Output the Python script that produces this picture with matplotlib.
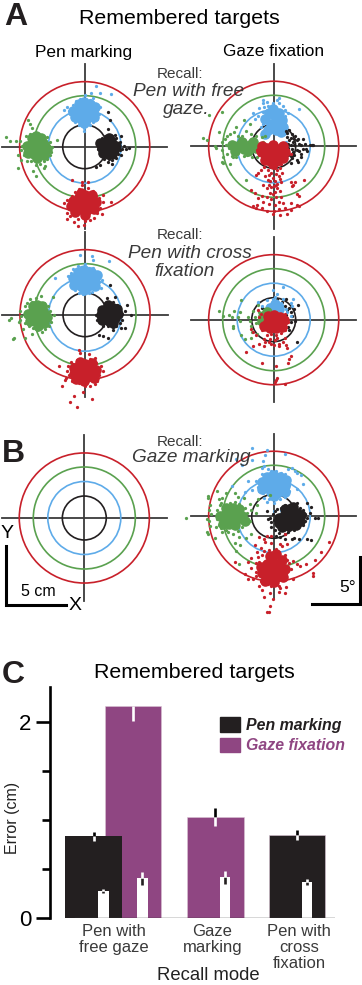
#!/usr/bin/env python3
# -*- coding: utf-8 -*-
import matplotlib
matplotlib.use("Agg")
import matplotlib.pyplot as plt
from matplotlib.patches import Circle, Patch

plt.rcParams['font.family'] = ['Liberation Sans', 'DejaVu Sans']

W, H = 362, 985
PX_PER_UNIT = 12.0
BLACK = '#231f20'
RED = '#c8202a'
GREEN = '#5aa14f'
BLUE = '#5eabe9'
PURPLE = '#8f4682'
GREY = '#3a3a3a'

# ring radii (cm / deg), inner to outer
ring_radii = [1.83, 3.04, 4.25, 5.42]
ring_colors = [BLACK, BLUE, GREEN, RED]

# Pen marking / recall with free gaze
pf_black_core = [(1.5,.2),(1.9,.5),(2.3,.2),(1.6,-.3),(2.0,-.1),(2.4,-.3),(1.9,-.6),(2.2,.5),(1.4,-.1),(1.9,.05),(1.3,.35),(2.6,.05),(1.5,-.55),(2.3,-.6),(2.0,.75)]
pf_black = [(1.0,.2),(1.1,-.2),(1.2,.5),(1.3,-.6),(1.4,.7),(1.7,.9),(2.0,.9),(2.3,.9),(2.5,1.0),(2.6,.7),(2.9,.4),(3.0,.9),(3.3,.1),(3.1,-.2),(3.4,-.2),(2.9,-.3),(2.8,-.6),(2.6,-.9),(2.3,-1.1),(2.0,-1.0),(1.6,-1.0),(1.3,-1.5),(.9,-1.7),(2.3,-1.4),(1.9,1.5),(1.9,-1.3),(3.0,-.7),(3.7,-.1),(1.9,2.9),(2.1,2.2)]
pf_blue_core = [(-.5,3.2),(-.1,3.4),(.4,3.1),(-.6,2.7),(-.1,2.9),(.4,2.6),(-.3,2.3),(.1,2.2),(.7,2.9),(-.95,3.0),(.85,3.3),(-.8,2.45),(.8,2.45),(-.05,3.75),(-.1,1.95),(-.5,3.55),(.45,3.55)]
pf_blue = [(-1.3,3.0),(-1.5,3.3),(-1.0,3.5),(-1.2,2.7),(-.9,2.4),(-.7,3.8),(-.4,4.0),(0,4.3),(.1,3.8),(.4,3.9),(.7,4.1),(.9,3.6),(1.0,3.1),(1.3,3.3),(1.2,2.7),(1.0,2.3),(.7,2.1),(.4,1.8),(-.1,1.6),(-.5,1.8),(-.8,2.1),(.95,5.05),(.5,4.45),(1.3,4.45),(2.2,4.4),(-1.7,3.1),(-.1,1.3)]
pf_green_core = [(-4.4,.3),(-4,.6),(-3.5,.3),(-4.5,-.2),(-4,0),(-3.5,-.2),(-4.2,-.6),(-3.8,-.7),(-3.3,.1),(-4.8,.1),(-3.1,-.2),(-4.7,-.5),(-4.4,.7),(-3.6,.7),(-3.4,-.65),(-4.1,.9),(-4.0,-.95)]
pf_green = [(-5.4,.5),(-5.2,.1),(-5.3,-.3),(-5.1,-.7),(-4.9,.9),(-4.6,1.1),(-4.4,1.6),(-4.6,1.9),(-4.3,.9),(-3.9,1.1),(-3.5,.9),(-3.1,.8),(-2.9,.4),(-2.7,.0),(-2.8,-.4),(-2.9,-.7),(-3.1,-1.0),(-3.4,-1.2),(-3.7,-1.4),(-4.1,-1.5),(-4.5,-1.2),(-4.8,-1.2),(-5.3,-1.1),(-5.6,-.7),(-5.7,.5),(-6.2,.5),(-6.6,.8),(-5.6,-1.8),(-4.3,-2.0),(-4.1,-2.4),(-3.4,-1.8),(-2.3,.6),(-3.3,-1.6),(-4.7,2.2)]
pf_red_core = [(-.5,-4.2),(0,-4.0),(.4,-4.4),(-.7,-4.7),(-.1,-4.6),(.5,-4.9),(-.4,-5.2),(.2,-5.3),(-.9,-5.0),(-1.0,-4.5),(.9,-4.6),(.8,-5.2),(-.8,-5.45),(.6,-4.05),(-.35,-3.85),(.0,-5.65),(-1.15,-4.95)]
pf_red = [(-1.7,-4.7),(-1.5,-4.4),(-1.4,-5.0),(-1.5,-5.5),(-1.2,-5.8),(-1.1,-4.1),(-.8,-3.8),(-.5,-3.5),(-.2,-3.2),(.3,-2.9),(-.2,-2.9),(-1.1,-2.8),(.3,-3.4),(.7,-3.7),(.9,-4.1),(1.2,-4.3),(1.5,-4.6),(1.3,-5.1),(1.0,-5.5),(1.4,-5.6),(.8,-5.9),(.4,-6.1),(0,-6.2),(-.6,-6.0),(-.9,-6.3),(-.1,-6.5),(-.6,-6.6),(2.2,-4.6),(1.5,-4.0),(-1.5,-6.0)]

# Pen marking / recall with cross fixation
pc_black_core = [(1.7,.3),(2.1,.5),(2.5,.2),(1.7,-.2),(2.1,0),(2.5,-.3),(2.0,-.5),(2.3,.6),(1.3,0),(1.4,.4),(2.75,.05),(1.45,-.45),(2.35,-.65),(1.95,.85),(2.65,.45)]
pc_black = [(.9,0),(1.0,-.4),(1.2,.3),(1.2,-.5),(1.4,.6),(1.7,.8),(1.8,1.4),(2.5,1.5),(2.3,1.1),(2.7,.8),(2.9,.4),(3.1,.1),(3.3,.3),(3.5,.8),(3.8,0),(3.1,-.4),(2.9,-.7),(2.6,-.9),(2.3,-1.0),(1.9,-.9),(1.5,-.9),(3.3,-1.1),(3.0,-1.1),(1.5,-1.8),(1.9,-1.9),(1.2,-1.7),(2.1,2.5),(2.3,-1.3)]
pc_blue_core = [(-.6,3.3),(-.1,3.4),(.5,3.2),(-.7,2.8),(-.1,2.9),(.5,2.7),(-.3,2.4),(.2,2.3),(.8,3.1),(-1.0,3.1),(1.0,3.3),(-.95,2.5),(.85,2.4),(-.05,3.75),(-.1,2.05),(-.55,3.6),(.5,3.6)]
pc_blue = [(-1.4,3.2),(-1.2,2.9),(-1.2,3.5),(-1.0,3.8),(-1.0,2.5),(-.8,2.1),(-.5,1.8),(-.2,1.7),(.3,1.8),(.6,1.9),(.9,2.2),(1.2,2.7),(1.4,2.9),(1.0,3.6),(.7,3.9),(.3,3.9),(-.3,4.0),(-.6,4.1),(0,4.2),(1.3,2.2),(-2.5,3.1),(-.4,5.0),(.7,4.6),(2.0,4.5),(.6,4.9)]
pc_green_core = [(-4.3,.3),(-3.9,.5),(-3.5,.3),(-4.4,-.1),(-4,0),(-3.5,-.2),(-4.1,-.5),(-3.7,-.6),(-3.3,0),(-4.75,.1),(-3.15,-.2),(-4.6,-.5),(-4.3,.7),(-3.6,.7),(-3.4,-.65),(-4.0,.85),(-3.95,-.9)]
pc_green = [(-5.4,.3),(-5.3,-.1),(-5.4,-.4),(-5.0,.7),(-4.8,1.0),(-4.4,1.1),(-4.1,1.4),(-3.7,1.6),(-3.9,1.0),(-3.4,1.0),(-3.1,.7),(-2.9,.3),(-2.6,0),(-2.9,-.3),(-2.8,-.6),(-3.0,-.9),(-3.3,-1.2),(-3.6,-1.4),(-4.0,-1.3),(-4.3,-1.1),(-4.7,-.9),(-5.0,-.7),(-5.2,-1.2),(-5.5,-.6),(-6.3,-.4),(-6.2,-.3),(-6.0,-2.0),(-5.9,-1.9),(-5.0,-1.9),(-4.4,-1.6),(-2.7,1.5),(-4.6,1.3)]
pc_red_core = [(-.5,-4.3),(0,-4.1),(.5,-4.4),(-.6,-4.8),(0,-4.7),(.6,-4.9),(-.3,-5.2),(.2,-5.2),(-.9,-4.9),(-.95,-4.45),(.95,-4.6),(.75,-5.3),(-.75,-5.35),(.55,-4.05),(-.4,-3.95),(-.05,-5.55)]
pc_red = [(-1.5,-4.7),(-1.4,-4.3),(-1.3,-5.0),(-1.6,-5.3),(-1.1,-5.5),(-1.0,-4.1),(-.7,-3.8),(-.4,-3.2),(-.5,-2.9),(.4,-3.7),(.8,-3.6),(.9,-4.0),(1.3,-4.3),(1.5,-4.7),(1.2,-5.0),(1.0,-5.5),(.8,-5.8),(.4,-5.9),(0,-5.9),(-.5,-5.7),(-.2,-6.4),(-.9,-6.8),(-.7,-7.7),(-1.25,-7.3),(.55,-7.0),(-2.2,-4.3),(-1.9,-5.9),(-1.7,-5.4),(-1.2,-3.9),(.3,-3.3)]

# Gaze fixation / recall with free gaze
gf_green_core = [(-3.0,0),(-2.5,-.2),(-2.0,.1),(-2.6,.4),(-3.2,-.4),(-1.5,-.1),(-3.5,.15),(-2.1,-.4),(-1.7,.4)]
gf_green = [(-5.9,.7),(-5.6,.5),(-4.8,-.1),(-4.9,0),(-4.3,-.3),(-4.0,.1),(-4.1,.6),(-3.9,.9),(-3.6,1.0),(-3.3,1.2),(-3.1,1.6),(-3.0,.9),(-2.6,.9),(-2.3,1.3),(-1.9,1.0),(-1.5,.9),(-1.0,.8),(-.9,.4),(-.7,.9),(-3.7,-.1),(-3.5,.4),(-3.9,-.6),(-3.5,-.8),(-3.4,-.9),(-3.1,-.9),(-4.3,-1.3),(-4.2,-1.4),(-3.6,-1.5),(-2.5,-.8),(-2.2,-.7),(-1.8,-.9),(-1.4,-.9),(-2.3,-2.8),(-2.5,2.2),(-4.6,1.2),(-4.3,2.9),(-5.4,2.6),(-2.0,1.9),(-2.8,.7),(-1.5,.4),(-4.3,.4),(-4.2,-.9)]
gf_blue_core = [(-.4,2.8),(0,2.6),(.3,2.1),(-.2,1.9),(-.5,1.4),(.2,1.4),(.6,1.2),(.4,2.8),(-.1,3.1),(-.75,2.3),(.7,2.2),(.8,1.6),(-.7,1.0)]
gf_blue = [(-.9,3.6),(-.8,3.3),(-.5,3.4),(-.1,3.6),(.4,3.65),(.8,3.4),(.9,3.0),(1.2,2.8),(.9,2.5),(.95,2.0),(-.9,2.9),(-1.2,3.2),(-1.7,2.8),(-1.6,2.3),(-1.3,2.5),(-.9,2.4),(-.9,1.9),(-1.1,1.6),(-.8,1.1),(.9,1.5),(1.1,1.1),(2.1,3.1),(1.0,.4),(-.1,3.1),(-.9,3.9),(.3,3.9),(.4,4.0),(-.6,3.7)]
gf_black_core = []
gf_black = [(1.0,1.3),(1.3,1.4),(1.5,1.0),(1.1,.8),(1.8,.9),(2.0,.6),(2.4,.6),(2.3,.1),(2.6,.2),(3.0,.1),(3.2,.1),(3.3,.15),(2.7,-.2),(2.4,-.2),(2.3,-.6),(2.1,-.4),(1.7,-.7),(1.2,-.7),(1.0,-.3),(1.5,-1.0),(1.9,-1.1),(2.0,-1.3),(1.4,-1.4),(2.3,-.9),(2.8,-.4),(.9,-1.0),(1.2,.2),(.9,.2),(1.4,.7),(1.6,.4),(1.3,.5),(1.7,.1),(1.5,-.2),(1.2,-.1),(1.9,-.3),(1.6,-.5),(1.4,-.8),(1.1,1.1),(1.7,.6),(2.1,.2),(1.9,.5),(1.4,.1)]
gf_red_core = [(-.6,-.1),(-.1,.1),(.4,-.2),(-.7,-.7),(-.1,-.6),(.5,-.7),(-.3,-1.1),(.2,-1.2),(-1.05,-.4),(.9,-.45),(.75,.05),(-.95,.0),(.8,-1.0),(-.75,-1.1),(-.1,-1.5)]
gf_red = [(-1.4,-.3),(-1.2,-.7),(-1.0,.1),(.9,-.1),(1.2,-.3),(1.4,-.6),(1.0,-1.0),(.8,-1.2),(-.9,-1.2),(-.8,-1.7),(-.5,-2.0),(.5,-1.8),(.7,-2.2),(-.7,-2.5),(-.5,-2.8),(-1.1,-2.0),(-1.3,-2.2),(-.4,-3.2),(.6,-3.0),(.5,-2.7),(-.9,-3.2),(-.6,-3.5),(-.3,-3.9),(.5,-3.7),(.6,-4.2),(.2,-4.2),(-.2,-4.4),(-.6,-4.2),(-1.0,-4.1),(-1.3,-4.3),(-1.6,-3.9),(-.9,-4.6),(-.4,-4.8),(.1,-4.9),(.4,-4.6),(.8,-4.7),(.9,-5.1),(.4,-5.2),(.0,-5.4),(-.1,-5.6),(.5,-5.7),(1.1,-5.6),(1.4,-4.7),(1.9,-4.0),(2.1,-4.1),(1.9,-4.9),(2.1,-5.0),(-1.4,-4.9),(-1.7,-5.0),(-1.0,-5.1),(-1.5,-5.1),(-.6,-5.4),(1.4,-3.0),(1.6,-3.2),(1.8,-3.0),(1.5,-3.3),(2.5,-2.8),(-1.9,-3.6),(1.4,-5.3),(-1.5,-2.4),(-.3,-1.6),(.1,-1.8),(.3,-2.0),(-.2,-2.2),(.2,-2.3),(.4,-2.5),(-.1,-2.6),(.1,-2.9),(-.3,-2.9),(.3,-3.1),(0,-3.3),(-.2,-3.4),(.3,-3.5),(.1,-3.8),(.4,-1.5),(-.5,-1.5),(.6,-1.5),(-.1,-4.0),(.2,-3.2),(-.4,-2.4)]

# Gaze fixation / recall with cross fixation
gc_green_core = [(-.9,.3),(-.6,-.1),(-1.0,-.1),(-.6,.6)]
gc_green = [(-4.6,.7),(-4.2,.3),(-3.7,.4),(-3.5,.2),(-3.3,.7),(-3.0,.2),(-2.7,1.6),(-2.8,.6),(-2.8,-.1),(-3.4,-.5),(-3.4,-.7),(-2.7,-1.3),(-1.9,-.5),(-2.1,.2),(-2.0,-.1),(-1.8,-1.0),(-1.7,.7),(-1.6,.2),(-1.5,-.3),(-1.3,1.2),(-1.2,.6),(-1.2,-.3),(-1.4,-1.2),(-1.9,-1.5),(-2.4,-1.6)]
gc_blue_core = [(-.3,1.0),(.1,1.3),(.4,.9)]
gc_blue = [(.75,2.7),(-.1,2.5),(.1,1.9),(-.1,1.7),(.3,2.1),(.1,1.5),(-.6,1.6),(-1.3,1.4),(-1.0,1.1),(-1.3,1.5),(-.5,1.2),(.6,1.4),(.8,1.7),(.7,1.2),(1.0,.9),(1.4,1.4),(1.6,1.7),(1.5,1.1),(1.1,.6),(1.4,.3)]
gc_black_core = []
gc_black = [(.9,1.1),(1.1,.8),(1.3,1.0),(1.0,.4),(1.4,.6),(1.5,.3),(1.7,.9),(2.0,1.2),(1.8,-.1),(1.4,-.2),(1.2,-.6),(1.3,-.9),(1.9,-1.9),(.7,1.5),(-1.0,1.0),(-.8,.9),(1.0,1.7),(.3,1.7)]
gc_red_core = [(-.5,.3),(0,.4),(.5,.2),(-.5,-.2),(0,-.3),(.5,-.3),(-.3,-.7),(.2,-.7),(.7,-.6),(-.8,-.5),(.85,.0)]
gc_red = [(-1.2,.2),(-1.0,-.4),(-1.0,-.9),(-1.3,.8),(-1.1,.5),(.9,.5),(1.0,.1),(1.2,-.2),(1.0,-.6),(.9,-.9),(.6,-1.1),(.2,-1.3),(-.2,-1.2),(-.6,-1.3),(-.8,-1.6),(-.3,-1.6),(.1,-1.7),(.3,-1.5),(.9,-1.5),(-1.2,-2.0),(-.7,-1.9),(-.4,-1.9),(-.2,-2.0),(0,-2.1),(-1.5,-1.3),(-1.7,-1.0),(-1.9,-.8),(-1.7,-2.2),(-.8,-2.2),(.4,-2.0),(.4,-2.2),(.8,-1.9),(1.0,-2.1),(1.1,-2.4),(1.3,-3.3),(1.2,-3.6),(1.4,-3.0),(-1.0,-3.6),(.2,-3.9),(.2,-5.0),(.3,-4.9),(.9,-5.4),(.1,-5.2),(-2.3,-2.7)]

# Gaze fixation / recall with gaze marking
gm_green_core = [(-4.0,.3),(-3.5,.3),(-3.0,.2),(-4.1,-.2),(-3.6,-.2),(-3.1,-.3),(-3.7,-.6),(-2.6,0),(-3.4,.7),(-4.45,.05),(-2.9,.6),(-4.2,-.65),(-3.2,-.75),(-3.95,.7),(-2.4,-.35)]
gm_green = [(-7.3,-.1),(-5.5,1.7),(-5.5,1.5),(-5.3,.9),(-5.4,.5),(-5.2,.2),(-5.4,-.4),(-5.3,-.8),(-5.5,-1.5),(-5.6,-1.3),(-4.7,.5),(-4.5,.9),(-4.4,1.1),(-4.6,1.4),(-4.3,1.5),(-4.8,-.9),(-4.6,-.7),(-4.7,-.2),(-4.4,-1.0),(-4.0,-1.1),(-4.3,-1.3),(-3.8,-1.3),(-3.4,-1.5),(-3.0,-1.2),(-2.9,-1.7),(-3.2,-1.0),(-2.6,-.9),(-2.4,-.5),(-2.0,-.4),(-2.2,.3),(-1.9,.5),(-2.4,.7),(-2.0,1.0),(-2.9,1.0),(-3.2,1.2),(-3.6,1.1),(-3.9,.9),(-3.0,1.6),(-3.2,1.9),(-2.5,1.5),(-1.5,.3),(-1.4,.9),(-1.3,1.4),(-.3,1.8),(-5.6,-.2),(-4.0,1.9),(-4.7,2.1),(-4.9,-1.8),(-3.2,-2.2),(-2.8,-2.4),(-3.1,-2.9),(-2.9,-4.0),(-1.9,-1.5),(-2.3,-1.8)]
gm_blue_core = [(-.4,2.9),(.1,3.1),(.5,2.8),(-.6,2.4),(0,2.6),(.5,2.3),(-.2,2.0),(.3,1.9),(.9,2.5),(-1.0,2.85),(1.0,3.0),(-.95,2.3),(.95,2.0),(-.05,3.45),(.0,1.65),(-.55,3.25),(.55,3.25)]
gm_blue = [(-1.8,5.7),(-1.5,2.9),(-1.3,2.4),(-1.2,2.1),(-1.1,3.0),(-1.0,3.5),(-.9,1.9),(-.7,3.5),(-.5,3.9),(-.2,3.8),(.2,3.8),(.6,3.6),(.9,3.5),(1.1,3.1),(1.3,2.6),(1.3,2.1),(1.1,1.9),(.9,1.6),(.5,1.4),(0,1.1),(-.4,1.4),(-.6,1.2),(-.8,1.5),(-1.8,2.2),(-2.4,2.0),(-2.1,2.9),(-1.0,4.0),(-.9,4.6),(-.3,3.4),(1.2,3.9),(1.5,4.0),(1.9,3.6),(1.8,3.8),(2.3,3.4),(1.9,2.3),(.9,5.2),(-.8,4.2),(-1.8,4.7),(-2.6,4.3),(-.7,5.1),(-.6,5.5),(-3.5,2.5),(-3.1,4.8),(0,.4),(.2,-.1),(.5,.2),(1.4,-.1),(2.4,2.7),(.6,.5)]
gm_black_core = [(.9,.2),(1.4,.4),(1.9,.3),(.9,-.4),(1.4,-.2),(1.9,-.3),(.7,-.9),(1.3,-.8),(.4,-.1),(2.3,.1),(2.2,-.35),(1.85,-.75),(.95,.6),(1.6,.75),(.45,-.55)]
gm_black = [(-.3,-.1),(-.5,-.2),(-.2,-.5),(0,-.3),(-.1,.2),(.1,.4),(.3,.6),(.6,.7),(.9,.9),(1.3,.9),(1.7,.8),(2.2,.7),(2.4,.5),(2.6,.2),(2.8,-.1),(2.6,-.4),(2.4,-.7),(2.1,-.7),(1.9,-1.0),(1.7,-1.1),(1.2,-1.3),(.9,-1.5),(.4,-1.4),(.1,-1.1),(-.2,-.9),(.2,-1.6),(.9,-1.9),(.5,-1.7),(1.5,-1.9),(1.7,-1.8),(2.1,-1.9),(2.8,-1.9),(3.1,-2.0),(3.4,-.1),(3.7,-.1),(3.0,.3),(3.1,.8),(2.8,1.1),(-.6,.4),(1.9,1.1)]
gm_red_core = [(-.6,-4.0),(-.1,-3.8),(.5,-4.1),(-.7,-4.5),(-.1,-4.5),(.5,-4.7),(-.4,-5.0),(.1,-5.1),(-1.0,-4.7),(.7,-3.6),(-1.05,-4.25),(.95,-4.4),(.8,-5.05),(-.75,-5.35),(-.35,-3.3),(.05,-5.5),(.15,-3.15)]
gm_red = [(-1.2,-1.7),(-.6,-1.6),(-.2,-1.6),(.9,-1.5),(-.8,-1.9),(-.2,-2.2),(.5,-2.3),(-1.1,-2.6),(-.4,-2.8),(-.8,-2.9),(.2,-2.7),(.7,-2.5),(1.1,-2.3),(-1.4,-3.0),(-1.3,-3.4),(-1.0,-3.2),(-.4,-3.3),(.4,-3.1),(.9,-3.2),(1.1,-3.6),(-1.2,-3.8),(-1.5,-3.9),(-1.9,-3.5),(-2.1,-3.8),(-1.9,-4.3),(-1.5,-4.6),(-1.5,-5.0),(-1.7,-5.2),(-2.1,-5.2),(-2.4,-4.8),(-1.1,-5.4),(-1.2,-5.8),(-.8,-5.5),(-.5,-5.6),(-.2,-5.8),(.2,-5.5),(.4,-5.8),(.7,-5.2),(1.0,-4.8),(1.1,-4.3),(1.3,-3.9),(1.4,-4.4),(1.6,-3.7),(1.9,-4.0),(2.2,-4.1),(2.7,-4.0),(3.4,-3.6),(3.3,-5.0),(3.3,-4.7),(1.6,-5.2),(1.0,-5.9),(.4,-6.3),(-.1,-6.9),(-.3,-6.4),(-.8,-6.7),(-1.0,-6.1),(-.3,-7.5),(-.6,-8.0),(-.4,-8.0),(4.6,-2.1),(3.9,-3.0),(-.7,-2.1),(-1.6,-2.4),(-3.2,-3.8),(.5,-6.0),(.9,-6.4)]

# bars, panel C
cat_labels = ['Pen with\nfree gaze', 'Gaze\nmarking', 'Pen with\ncross\nfixation']
cat_pos = [0.36, 2.09, 3.62]
bar_pos = [0.0, 0.69, 2.146, 3.586]
bar_err = [0.83, 2.17, 1.03, 0.845]
bar_sem_up = [0.05, 0.0, 0.09, 0.05]
bar_sem_down = [0.05, 0.16, 0.09, 0.05]
bar_cols = [BLACK, PURPLE, PURPLE, BLACK]
inner_val = [0.27, 0.40, 0.41, 0.365]
inner_sem = [0.02, 0.065, 0.07, 0.03]
yticks_major = [0, 2]
yticks_minor = [0.5, 1.0, 1.5]

fig = plt.figure(figsize=(W / 100, H / 100), dpi=100)


def px_axes(x0, y0, x1, y1):
    # y measured from the top of the picture, like the reference
    return fig.add_axes([x0 / W, 1 - y1 / H, (x1 - x0) / W, (y1 - y0) / H])


def target_panel(cx, cy, clusters):
    half = 88
    ax = px_axes(cx - half, cy - half, cx + half, cy + half)
    lim = half / PX_PER_UNIT
    ax.set_xlim(-lim, lim)
    ax.set_ylim(-lim, lim)
    ax.axis('off')
    ax.patch.set_alpha(0)
    ax.axhline(0, xmin=0.03, xmax=0.97, color=GREY, lw=1.3, zorder=1)
    ax.axvline(0, ymin=0.03, ymax=0.97, color=GREY, lw=1.3, zorder=1)
    for r, c in zip(ring_radii, ring_colors):
        ax.add_patch(Circle((0, 0), r, fill=False, ec=c, lw=1.2, zorder=2))
    for pts, core, col in clusters:
        for data, size in ((pts, 5.5), (core, 58)):
            if data:
                xs, ys = zip(*data)
                ax.scatter(xs, ys, s=size, color=col, linewidths=0, zorder=3, clip_on=False)
    return ax


target_panel(84.7, 146.7, [(pf_black, pf_black_core, BLACK), (pf_blue, pf_blue_core, BLUE),
                           (pf_green, pf_green_core, GREEN), (pf_red, pf_red_core, RED)])
target_panel(273.7, 146.3, [(gf_blue, gf_blue_core, BLUE), (gf_black, gf_black_core, BLACK),
                            (gf_green, gf_green_core, GREEN), (gf_red, gf_red_core, RED)])
target_panel(85, 314.7, [(pc_black, pc_black_core, BLACK), (pc_blue, pc_blue_core, BLUE),
                         (pc_green, pc_green_core, GREEN), (pc_red, pc_red_core, RED)])
target_panel(273.7, 319.7, [(gc_black, gc_black_core, BLACK), (gc_blue, gc_blue_core, BLUE),
                            (gc_green, gc_green_core, GREEN), (gc_red, gc_red_core, RED)])
target_panel(84.3, 518, [])
target_panel(273.7, 516.3, [(gm_blue, gm_blue_core, BLUE), (gm_black, gm_black_core, BLACK),
                            (gm_green, gm_green_core, GREEN), (gm_red, gm_red_core, RED)])

# panel C
ax = px_axes(49.5, 687, 335, 917.5)
ax.set_ylim(0, 230.5 / 97.6)
ax.set_xlim(-0.78, 4.255)
ax.patch.set_alpha(0)
ax.bar(bar_pos, bar_err, width=1.0, color=bar_cols, edgecolor='#d9c3d3', linewidth=0.4, zorder=2)
ax.bar(bar_pos[:1], bar_err[:1], width=1.0, color=BLACK, zorder=3)
inner_pos = [p + 0.17 for p in bar_pos]
ax.bar(inner_pos, inner_val, width=0.182, color='white', zorder=4)
for p, v, up, dn in zip(bar_pos, bar_err, bar_sem_up, bar_sem_down):
    ax.plot([p, p], [v, v + up], color='black', lw=1.9, solid_capstyle='butt', zorder=5)
    ax.plot([p, p], [v - dn, v], color='white', lw=1.9, solid_capstyle='butt', zorder=5)
for p, v, e in zip(inner_pos, inner_val, inner_sem):
    ax.plot([p, p], [v - e, v], color=BLACK, lw=1.9, solid_capstyle='butt', zorder=5)
    ax.plot([p, p], [v, v + e], color='white', lw=1.9, solid_capstyle='butt', zorder=5)
for s in ('top', 'right', 'bottom'):
    ax.spines[s].set_visible(False)
ax.spines['left'].set_linewidth(1.9)
ax.axhline(0, xmin=0.09, xmax=1, color=GREY, lw=1.0, zorder=6)
ax.set_yticks(yticks_major)
ax.set_yticklabels([str(t) for t in yticks_major], fontsize=16, color='black')
ax.set_yticks(yticks_minor, minor=True)
ax.tick_params(axis='y', which='major', length=10, width=1.9, pad=3)
ax.tick_params(axis='y', which='minor', length=5.5, width=1.9)
ax.set_xticks(cat_pos)
ax.set_xticklabels(cat_labels, fontsize=12, color=GREY, linespacing=1.08)
ax.tick_params(axis='x', length=0, pad=5)
ax.legend(handles=[Patch(color=BLACK, label='Pen marking'), Patch(color=PURPLE, label='Gaze fixation')],
          loc='upper left', bbox_to_anchor=(170.5 / 285.5, 1 - 30.5 / 230.5), frameon=False, borderpad=0,
          borderaxespad=0, handlelength=1.25, handleheight=1.05, handletextpad=0.38, labelspacing=0.28,
          labelcolor=[BLACK, PURPLE], prop={'size': 11.4, 'style': 'italic', 'weight': 'bold'})

# overlay for the lettering and scale bars, in picture pixels
ov = fig.add_axes([0, 0, 1, 1], zorder=10)
ov.set_xlim(0, W)
ov.set_ylim(H, 0)
ov.axis('off')
ov.patch.set_alpha(0)


def label(x, y, s, size, **kw):
    kw.setdefault('color', 'black')
    ov.text(x, y, s, fontsize=size, ha='center', va='center', **kw)


label(16, 17, 'A', 23, weight='bold', color=BLACK)
label(13, 454, 'B', 23, weight='bold', color=BLACK)
label(13, 675, 'C', 23, weight='bold', color=BLACK)
label(179.5, 18, 'Remembered targets', 15.4)
label(194, 673, 'Remembered targets', 15.4)
label(84, 52, 'Pen marking', 12.4)
label(274, 52, 'Gaze fixation', 12.4)
label(180, 74, 'Recall:', 11, color=GREY)
label(189, 91, 'Pen with free', 13.7, style='italic', color=GREY)
label(186, 109, 'gaze.', 13.7, style='italic', color=GREY)
label(180, 235, 'Recall:', 11, color=GREY)
label(190, 253, 'Pen with cross', 13.7, style='italic', color=GREY)
label(185, 272, 'fixation', 13.7, style='italic', color=GREY)
label(180, 442, 'Recall:', 11, color=GREY)
label(191, 458, 'Gaze marking', 13.7, style='italic', color=GREY)
label(7, 533, 'Y', 14)
label(38, 591, '5 cm', 11.5)
label(75, 606, 'X', 14)
label(348, 588, '5°', 12.5)
label(12, 818, 'Error (cm)', 11.5, rotation=90, color='#222222')
label(208, 975, 'Recall mode', 13.3, color='#222222')
ov.plot([6, 6, 66], [546, 605, 605], color='black', lw=2.2, solid_joinstyle='miter')
ov.plot([312, 360, 360], [604, 604, 557], color='black', lw=2.2, solid_joinstyle='miter')

fig.savefig('out.png', dpi=100)
